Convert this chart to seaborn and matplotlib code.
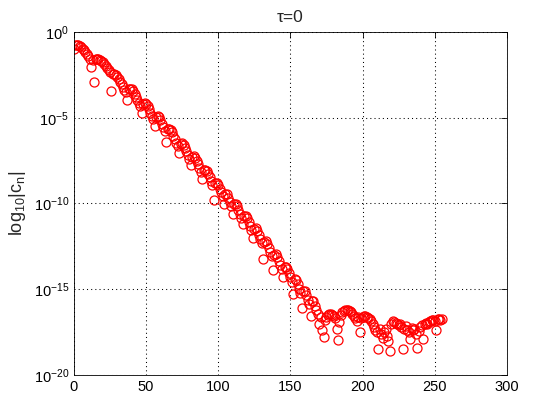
import numpy as np
import pandas as pd
import matplotlib
matplotlib.use('Agg')
import matplotlib.pyplot as plt
import seaborn as sns

# log10 |c_n|, n = 0 .. 255
log_c = [
    -1.02, -0.78, -0.74, -0.76, -0.82, -0.88, -0.97, -1.07, -1.18, -1.30, -1.43, -1.58,
    -2.03, -1.62, -2.92,
    -1.60, -1.58, -1.60, -1.64, -1.70, -1.78, -1.87, -1.97, -2.08, -2.20, -2.32,
    -3.42,
    -2.45, -2.45, -2.50, -2.62, -2.76, -2.90, -3.06, -3.20, -3.36, -3.50,
    -3.95,
    -3.35, -3.33, -3.35, -3.46, -3.62, -3.81, -3.97, -4.14, -4.31,
    -4.70,
    -4.18, -4.17, -4.20, -4.34, -4.52, -4.71, -4.89, -5.08,
    -5.50,
    -4.95, -4.90, -4.97, -5.13, -5.35, -5.56, -5.79,
    -6.40,
    -5.68, -5.67, -5.72, -5.86, -6.06, -6.25, -6.45, -6.64,
    -7.08,
    -6.53, -6.50, -6.57, -6.75, -6.96, -7.18, -7.40,
    -7.75,
    -7.29, -7.26, -7.33, -7.51, -7.72, -7.94, -8.16,
    -8.60,
    -8.05, -8.02, -8.09, -8.27, -8.48, -8.70, -8.92,
    -9.77,
    -8.81, -8.78, -8.90, -9.13, -9.34, -9.59,
    -10.03,
    -9.43, -9.42, -9.67, -9.91, -10.16,
    -10.60,
    -10.05, -10.02, -10.15, -10.38, -10.60, -10.85,
    -11.20,
    -10.75, -10.72, -10.85, -11.09, -11.31, -11.57,
    -12.02,
    -11.48, -11.45, -11.59, -11.82, -12.05, -12.30,
    -13.25,
    -12.22, -12.20, -12.34, -12.58, -12.81, -13.07,
    -13.90,
    -12.99, -12.97, -13.11, -13.34, -13.57, -13.82,
    -14.30,
    -13.73, -13.71, -13.84, -14.08, -14.30, -14.56,
    -15.30,
    -14.43, -14.44, -14.70, -14.96, -15.22,
    -16.10,
    -15.09, -15.10, -15.35, -15.60, -15.85,
    -16.55,
    -15.70, -15.70, -15.95, -16.20, -16.45,
    # noise floor
    -17.00, -16.60, -17.40, -17.80, -16.80, -16.60, -16.50, -16.45, -16.45, -16.50,
    -16.55, -16.65, -17.30, -17.95, -16.90,
    -16.50, -16.35, -16.25, -16.20, -16.20, -16.22, -16.28, -16.35, -16.45, -16.55,
    -16.70, -16.85, -16.60,
    -17.50,
    -16.70, -16.60, -16.55, -16.55, -16.60, -16.65, -16.75, -16.85, -17.00, -17.20,
    -17.35, -17.50, -18.50,
    -17.30, -17.60, -17.85, -17.50, -17.30, -17.70, -18.00, -18.60,
    -17.00, -16.85, -16.90, -16.95, -17.00, -17.10, -17.05, -17.20,
    -18.50,
    -17.30, -17.15, -17.35, -17.50, -17.90, -17.25, -17.40, -17.30, -17.60, -18.40,
    -17.45, -17.20, -17.10, -17.90, -17.00, -16.95, -17.05, -16.90, -16.85, -16.80,
    -16.80, -16.85, -17.40, -16.75, -16.75, -16.80, -16.75,
]

x_ticks = [0, 50, 100, 150, 200, 250, 300]
y_ticks = [1e-20, 1e-15, 1e-10, 1e-5, 1e0]

df = pd.DataFrame({'n': np.arange(len(log_c)), 'c': 10.0 ** np.array(log_c)})

sns.set_theme(style='white')
plt.rcParams['font.family'] = ['Liberation Sans', 'DejaVu Sans']
plt.rcParams['mathtext.default'] = 'regular'

fig, ax = plt.subplots(figsize=(5.6, 4.2), dpi=100)
fig.subplots_adjust(left=0.132, right=0.905, top=0.924, bottom=0.107)

sns.lineplot(data=df, x='n', y='c', ax=ax, estimator=None, linestyle='',
             marker='o', markersize=6.5, markerfacecolor='none',
             markeredgecolor='red', markeredgewidth=0.9, color='red')

ax.set_yscale('log')
ax.set_xlim(0, 300)
ax.set_ylim(1e-20, 1)
ax.set_xticks(x_ticks)
ax.set_yticks(y_ticks)
ax.yaxis.set_minor_locator(matplotlib.ticker.NullLocator())
ax.tick_params(direction='in', top=True, right=True, length=4, width=0.6,
               labelsize=10.5, colors='black')
for s in ax.spines.values():
    s.set_color('black')
    s.set_linewidth(0.6)
ax.grid(True, color='black', linestyle=(0, (1, 3)), linewidth=0.75)

ax.set_xlabel('')
ax.set_ylabel(r'log$_{10}$|c$_n$|', fontsize=13)
ax.set_title('τ=0', fontsize=12.5, pad=7)

fig.savefig('out.png', dpi=100)
